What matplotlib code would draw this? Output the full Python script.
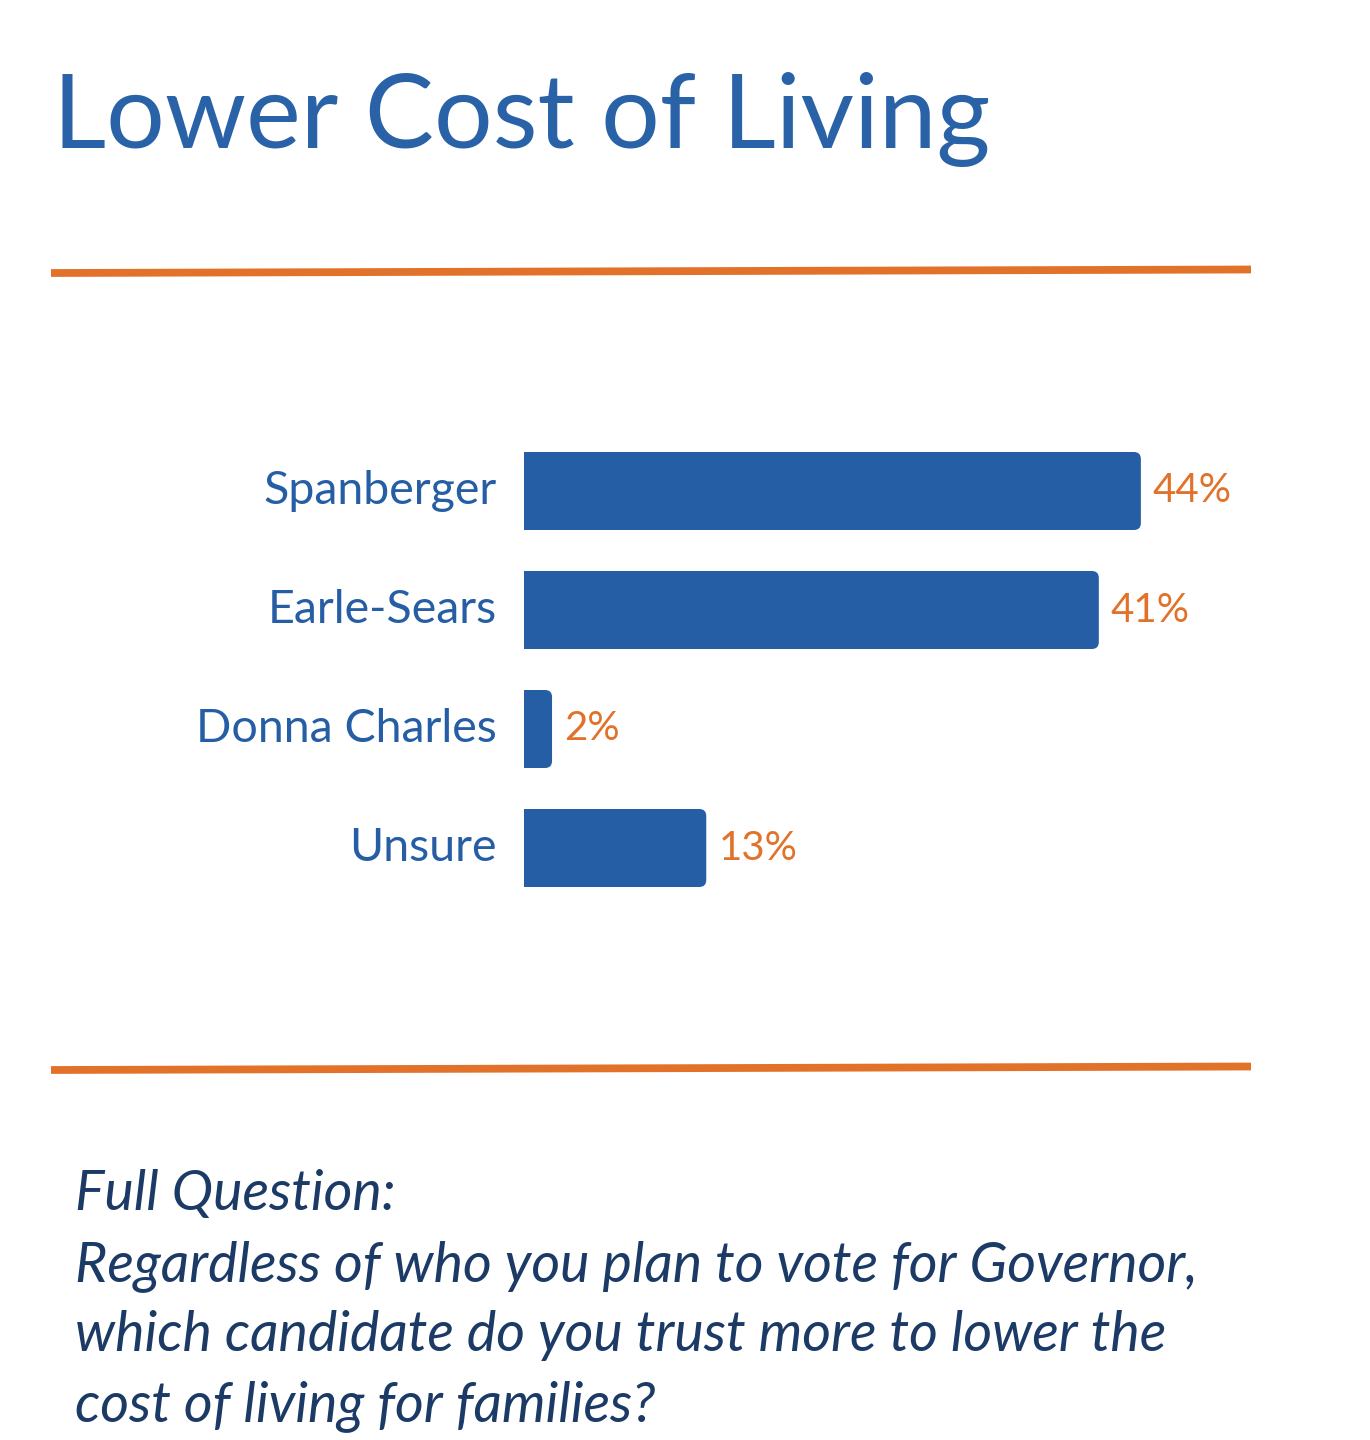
import matplotlib
matplotlib.use("Agg")
import matplotlib.pyplot as plt
from matplotlib.patches import FancyBboxPatch, Rectangle
from matplotlib.lines import Line2D

categories = ["Spanberger", "Earle-Sears", "Donna Charles", "Unsure"]
values = [44, 41, 2, 13]
value_labels = ["44%", "41%", "2%", "13%"]
title = "Lower Cost of Living"
question_lines = ["Full Question:",
                  "Regardless of who you plan to vote for Governor,",
                  "which candidate do you trust more to lower the",
                  "cost of living for families?"]

BLUE = "#255EA4"
TITLE_BLUE = "#2A62A8"
ORANGE = "#E2722A"
NAVY = "#1B3A66"
FONT = "Lato"

W, H = 1370, 1440
fig = plt.figure(figsize=(W / 100, H / 100), dpi=100)
fig.patch.set_facecolor("white")

def fx(px):
    return px / W

def fy(py):
    return 1 - py / H

# Title
fig.text(fx(53), fy(148), title, fontsize=74.5, color=TITLE_BLUE, family=FONT,
         ha="left", va="baseline")

# Orange rules (slightly tilted as in the reference)
for yl, yr in ((273, 269.5), (1070, 1066.5)):
    fig.add_artist(Line2D([fx(51), fx(1251)], [fy(yl), fy(yr)], color=ORANGE,
                          lw=5.6, solid_capstyle="butt"))

# Bar axes
ax_left, ax_right = 524, 1250
ax_top, ax_bot = 431.5, 907.5
px_per_unit = 14.02
ax = fig.add_axes([fx(ax_left), fy(ax_bot), fx(ax_right - ax_left), (ax_bot - ax_top) / H])
ax.set_xlim(0, (ax_right - ax_left) / px_per_unit)
ax.set_ylim(len(categories) - 0.5, -0.5)
ax.axis("off")

bar_h = 78 / 119
r_px = 7
r_x = r_px / px_per_unit
aspect = (r_px / 119) / r_x
for i, (c, v, lab) in enumerate(zip(categories, values, value_labels)):
    ax.add_patch(FancyBboxPatch((0, i - bar_h / 2), v, bar_h,
                                boxstyle=f"round,pad=0,rounding_size={r_x}",
                                mutation_aspect=aspect, fc=BLUE, ec="none"))
    ax.add_patch(Rectangle((0, i - bar_h / 2), v / 2, bar_h, fc=BLUE, ec="none"))
    ax.text(v + 12 / px_per_unit, i, lab, color=ORANGE, fontsize=29, family=FONT,
            ha="left", va="center")
    ax.text(-27 / px_per_unit, i, c, color=BLUE, fontsize=33.5, family=FONT,
            ha="right", va="center")

# Question text
baselines = [1210, 1281, 1351, 1421]
for line, b in zip(question_lines, baselines):
    fig.text(fx(75), fy(b), line, fontsize=40, color=NAVY, family=FONT,
             style="italic", ha="left", va="baseline")

fig.savefig("out.png", dpi=100, facecolor="white")
